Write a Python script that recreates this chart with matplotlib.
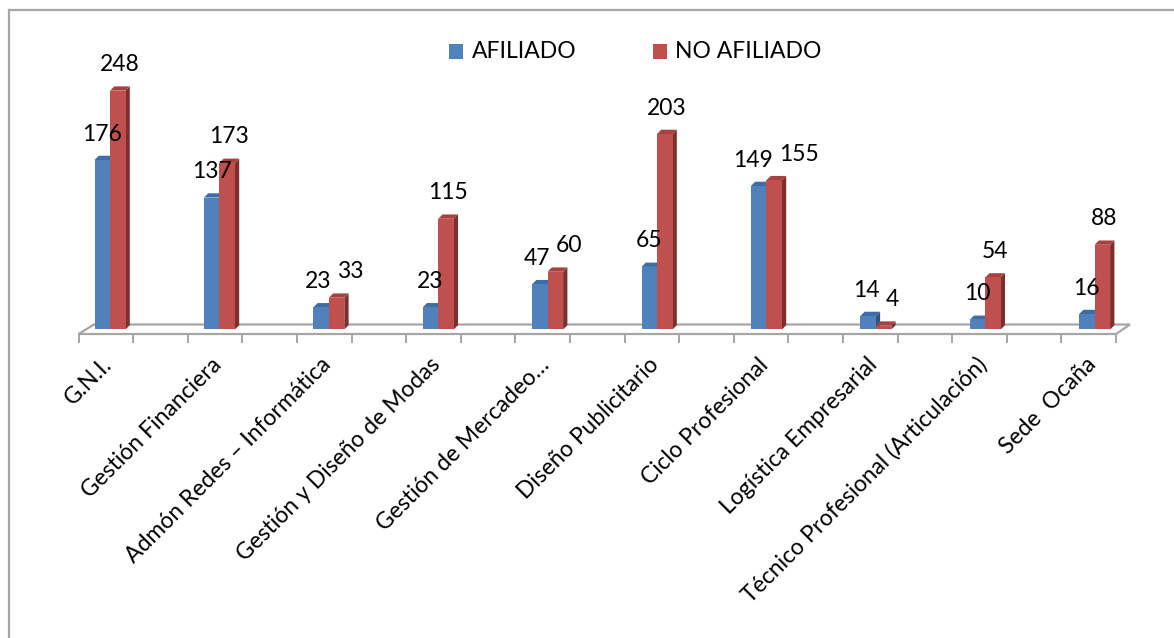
import numpy as np
import matplotlib
matplotlib.use('Agg')
import matplotlib.pyplot as plt
from matplotlib.patches import Polygon, Rectangle
from matplotlib.lines import Line2D

plt.rcParams['font.family'] = ['Lato', 'DejaVu Sans']

# ── Data ─────────────────────────────────────────────────────────
categories = ['G.N.I.', 'Gestión Financiera', 'Admón Redes – Informática',
              'Gestión y Diseño de Modas', 'Gestión de Mercadeo…',
              'Diseño Publicitario', 'Ciclo Profesional',
              'Logística Empresarial', 'Técnico Profesional (Articulación)',
              'Sede  Ocaña']
afiliado = [176, 137, 23, 23, 47, 65, 149, 14, 10, 16]
no_afiliado = [248, 173, 33, 115, 60, 203, 155, 4, 54, 88]
series_names = ['AFILIADO', 'NO AFILIADO']

# ── Style ────────────────────────────────────────────────────────
BLUE, BLUE_TOP, BLUE_SIDE = '#4F81BD', '#3D6CA6', '#2F5584'
RED, RED_TOP, RED_SIDE = '#C0504D', '#A7413E', '#7D2F2D'
GRID = '#A6A6A6'
FS = 16.5
CHAR_PX = 0.58 * FS * 100 / 72      # approx digit width in pixels

W_PX, H_PX = 1174, 638
X0_PX, X_STEP = 110.0, 109.4      # pixel of category 0 centre, spacing
Y0_PX, Y_SCALE = 329.5, 0.963     # pixel of value 0, pixels per unit

fig = plt.figure(figsize=(W_PX / 100, H_PX / 100), dpi=100)
ax = fig.add_axes([0, 0, 1, 1])
ax.set_xlim(-X0_PX / X_STEP, (W_PX - X0_PX) / X_STEP)
ax.set_ylim((Y0_PX - H_PX) / Y_SCALE, Y0_PX / Y_SCALE)
ax.axis('off')


def px(x, y):
    """pixel (from top-left) -> data coords"""
    return (x - X0_PX) / X_STEP, (Y0_PX - y) / Y_SCALE


# ── Chart border (top & left) ────────────────────────────────────
fig.add_artist(Line2D([9 / W_PX, 9 / W_PX], [0, 1 - 9.5 / H_PX],
                      color=GRID, lw=1.6))
fig.add_artist(Line2D([9 / W_PX, 1], [1 - 9.5 / H_PX, 1 - 9.5 / H_PX],
                      color=GRID, lw=1.6))

# ── Floor plate ──────────────────────────────────────────────────
floor = [px(78.6, 334), px(1116, 334), px(1130, 324.5), px(94, 324.5)]
ax.add_patch(Polygon(floor, closed=True, fill=False, edgecolor=GRID,
                     lw=1.6, zorder=1))
for k in range(20):
    xt = 78.6 + k * (1116 - 78.6) / 19
    ax.plot(*zip(px(xt, 334), px(xt, 342)), color=GRID, lw=1.4, zorder=1)

# ── 3D bars ──────────────────────────────────────────────────────
w = 15.5 / X_STEP
ddx, ddy = 4.3 / X_STEP, 4.3 / Y_SCALE
x = np.arange(len(categories))


def bar3d(x0, h, top, side, z):
    ax.add_patch(Polygon([(x0 + w, 0), (x0 + w + ddx, ddy),
                          (x0 + w + ddx, h + ddy), (x0 + w, h)],
                         closed=True, facecolor=side, edgecolor='none',
                         zorder=z))
    ax.add_patch(Polygon([(x0, h), (x0 + w, h), (x0 + w + ddx, h + ddy),
                          (x0 + ddx, h + ddy)],
                         closed=True, facecolor=top, edgecolor='none',
                         zorder=z))


ax.bar(x - w, afiliado, width=w, align='edge', color=BLUE, zorder=3)
for xi, v in zip(x, afiliado):
    bar3d(xi - w, v, BLUE_TOP, BLUE_SIDE, 2)
ax.bar(x, no_afiliado, width=w, align='edge', color=RED, zorder=5)
for xi, v in zip(x, no_afiliado):
    bar3d(xi, v, RED_TOP, RED_SIDE, 4)

# value labels (pair pushed apart when the two would collide)
for xi, va_, vb in zip(x, afiliado, no_afiliado):
    xa = xi - w / 2
    xb = xi + w / 2 + ddx / 2
    shift = 0
    if abs(vb - va_) * Y_SCALE < 24:
        need = (len(str(va_)) + len(str(vb))) * CHAR_PX / 2 + 6
        shift = max(0, need - (xb - xa) * X_STEP)
    ax.annotate(f'{va_}', (xa, va_), xytext=(-shift * 0.2, 26),
                textcoords='offset pixels', ha='center', va='center',
                fontsize=FS, zorder=6)
    ax.annotate(f'{vb}', (xb, vb), xytext=(shift * 0.8, 26),
                textcoords='offset pixels', ha='center', va='center',
                fontsize=FS, zorder=6)

# category labels
for i, lab in enumerate(categories):
    lx, ly = px(113 + X_STEP * i, 366)
    ax.text(lx, ly, lab, rotation=45, rotation_mode='anchor',
            ha='right', va='baseline', fontsize=FS)

# ── Legend ───────────────────────────────────────────────────────
for (sx, tx), name, col in zip([(449, 472), (653, 675)], series_names,
                               [BLUE, RED]):
    ax.add_patch(Rectangle(px(sx, 59), 14 / X_STEP, 15 / Y_SCALE,
                           facecolor=col, edgecolor='none'))
    ax.text(*px(tx, 52), name, ha='left', va='center', fontsize=FS)

fig.savefig('out.png', dpi=100, facecolor='white')
